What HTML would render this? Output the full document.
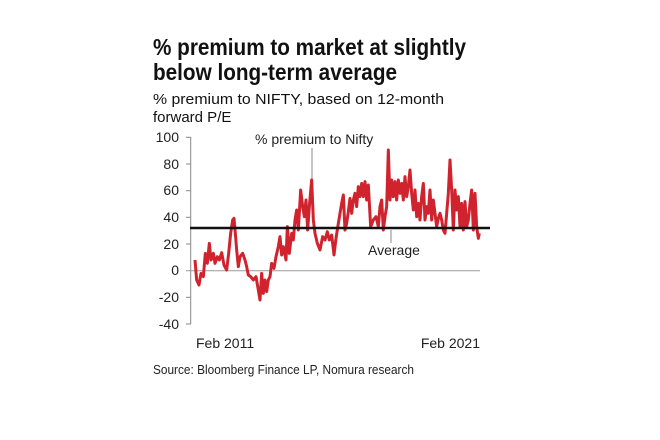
<!DOCTYPE html>
<html><head><meta charset="utf-8"><style>
body{margin:0;background:#fff;}
svg{display:block;font-family:"Liberation Sans",sans-serif;}
</style></head><body>
<svg width="660" height="440" viewBox="0 0 660 440">
<text x="153" y="55" font-size="23" font-weight="bold" fill="#111" textLength="313" lengthAdjust="spacingAndGlyphs">% premium to market at slightly</text>
<text x="153" y="80" font-size="23" font-weight="bold" fill="#111" textLength="244" lengthAdjust="spacingAndGlyphs">below long-term average</text>
<text x="153" y="104" font-size="15" fill="#111" textLength="291" lengthAdjust="spacingAndGlyphs">% premium to NIFTY, based on 12-month</text>
<text x="153" y="122" font-size="15" fill="#111">forward P/E</text>
<g font-size="14" fill="#222" text-anchor="end">
<text x="179" y="142">100</text><text x="179" y="169">80</text><text x="179" y="195">60</text><text x="179" y="222">40</text><text x="179" y="249">20</text><text x="179" y="275">0</text><text x="179" y="302">-20</text><text x="179" y="329">-40</text>
</g>
<line x1="190.7" y1="137" x2="190.7" y2="324" stroke="#888" stroke-width="1"/>
<g stroke="#888" stroke-width="1">
<line x1="186" y1="137.3" x2="191" y2="137.3"/><line x1="186" y1="164" x2="191" y2="164"/><line x1="186" y1="190.7" x2="191" y2="190.7"/><line x1="186" y1="217.3" x2="191" y2="217.3"/><line x1="186" y1="244" x2="191" y2="244"/><line x1="186" y1="297.3" x2="191" y2="297.3"/><line x1="186" y1="324" x2="191" y2="324"/>
</g>
<line x1="186" y1="270.7" x2="480" y2="270.7" stroke="#999" stroke-width="1"/>
<line x1="312" y1="148" x2="312" y2="185" stroke="#888" stroke-width="1"/>
<line x1="391" y1="230" x2="391" y2="243" stroke="#888" stroke-width="1"/>
<g transform="translate(130,120) scale(0.33333)">
<polyline fill="none" stroke="#d0232e" stroke-width="9" stroke-linejoin="round" points="195,420 200,480 207,495 213,460 220,470 226,400 232,430 238,370 243,420 250,400 255,430 262,410 268,420 275,398 282,435 290,450 296,400 302,340 308,300 312,295 316,340 320,390 325,440 330,410 338,400 345,420 350,440 355,465 362,470 370,480 378,470 385,510 390,540 395,460 400,520 405,480 410,515 415,480 420,470 425,430 432,445 438,410 445,380 450,350 455,405 460,380 468,420 472,320 478,400 485,340 490,360 495,300 500,270 505,330 512,210 518,260 523,290 528,240 533,330 538,260 545,180 550,300 555,340 562,370 570,390 578,350 585,360 592,335 598,360 605,345 612,405 618,355 625,310 630,280 635,250 640,225 645,330 650,310 655,275 660,235 665,280 670,240 675,220 680,260 685,200 690,230 695,190 700,230 705,185 710,240 715,195 722,320 730,300 738,290 745,320 750,260 755,240 760,330 765,290 770,260 775,90 780,240 785,180 790,230 795,185 800,240 805,180 810,220 815,190 820,240 825,170 830,230 835,200 840,150 845,220 850,270 855,210 860,290 865,250 870,300 875,230 880,190 885,300 890,260 895,280 900,210 905,300 910,240 915,280 920,320 925,295 930,280 935,300 940,330 945,340 950,280 955,220 960,120 965,210 970,330 975,210 980,270 985,230 990,320 995,250 1000,330 1005,245 1010,320 1015,300 1020,250 1025,210 1030,330 1035,220 1040,320 1045,355 1048,340"/>
</g>
<line x1="190" y1="228" x2="490" y2="228" stroke="#111" stroke-width="2.5"/>
<text x="255" y="144" font-size="14" fill="#222">% premium to Nifty</text>
<text x="368" y="255" font-size="14" fill="#222">Average</text>
<text x="196" y="348" font-size="14" fill="#222">Feb 2011</text>
<text x="480" y="348" font-size="14" fill="#222" text-anchor="end">Feb 2021</text>
<text x="153" y="374" font-size="12.5" fill="#222" textLength="261" lengthAdjust="spacingAndGlyphs">Source: Bloomberg Finance LP, Nomura research</text>
</svg>
</body></html>
